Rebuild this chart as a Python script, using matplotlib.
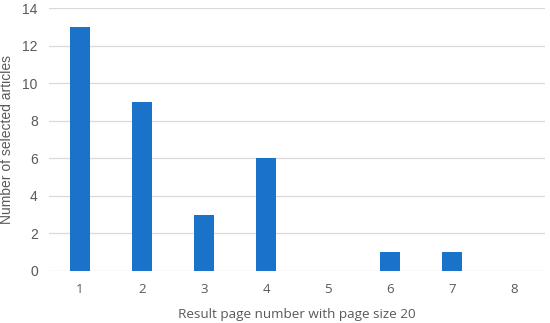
import matplotlib
matplotlib.use("Agg")
import matplotlib.pyplot as plt

pages = ["1", "2", "3", "4", "5", "6", "7", "8"]
articles = [13, 9, 3, 6, 0, 1, 1, 0]
y_ticks = [0, 2, 4, 6, 8, 10, 12, 14]

plt.rcParams["font.family"] = ["Open Sans", "DejaVu Sans"]
text_gray = "#595959"

fig = plt.figure(figsize=(5.5, 3.23), dpi=100)
ax = fig.add_axes([0.089, 0.161, 0.902, 0.814])

x = list(range(len(pages)))
ax.bar(x, articles, width=0.31, color="#1a73c9", zorder=3)

ax.set_xlim(-0.5, len(pages) - 0.5)
ax.set_ylim(0, 14)
ax.set_yticks(y_ticks)
ax.set_xticks(x)
ax.set_xticklabels(pages)
ax.yaxis.grid(True, color="#d9d9d9", linewidth=0.9, zorder=0)
ax.set_axisbelow(True)
for s in ax.spines.values():
    s.set_visible(False)
ax.tick_params(length=0, labelsize=9.5, colors=text_gray)
ax.tick_params(axis="y", pad=8)
ax.tick_params(axis="x", pad=9)
for lbl in ax.get_yticklabels():
    lbl.set_family(["Liberation Sans", "DejaVu Sans"])
    lbl.set_fontsize(10)
ax.set_xlabel("Result page number with page size 20", fontsize=9.7, color=text_gray, labelpad=8)
ax.set_ylabel("Number of selected articles", fontsize=10, color=text_gray, labelpad=6,
              family=["Liberation Sans", "DejaVu Sans"])

fig.savefig("out.png", dpi=100)
